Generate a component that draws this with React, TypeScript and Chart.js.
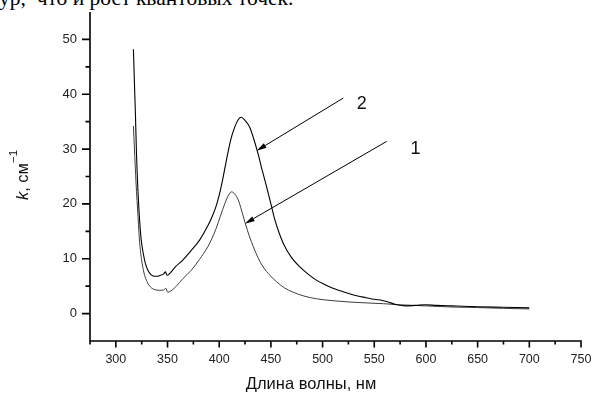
import React, { useEffect, useRef } from "react";
import { Chart, registerables } from "chart.js";

Chart.register(...registerables);

// Absorption spectra: wavelength (nm) vs absorption coefficient k (cm^-1)
const curve2Wl = [
  317, 318, 319, 320, 321.5, 323, 324.5, 326.5, 328.5, 331, 334, 337, 340, 343, 346, 348, 349.5, 352,
  358, 365, 372, 381, 389, 393, 397, 400, 403, 407, 411, 415, 418.5, 421.5, 425, 429.5, 433.5, 437.5,
  441.5, 446, 450, 454, 458, 462, 470, 478, 486, 494, 502, 510, 518, 526, 534, 542, 550, 558, 565,
  572, 580, 590, 600, 610, 625, 650, 675, 700,
];
const curve2K = [
  48.2, 42, 36, 29, 22, 17, 13.5, 11, 9.2, 7.9, 7.1, 6.8, 6.8, 7.0, 7.2, 7.6, 7.0, 7.3,
  8.6, 9.8, 11.3, 13.4, 16.0, 17.6, 19.6, 21.6, 24.1, 28, 31.6, 34, 35.4, 35.8, 35.2, 34, 31.8, 29.2,
  26.2, 23, 20, 17, 14.7, 12.8, 10.2, 8.5, 7.2, 6.1, 5.3, 4.6, 4.1, 3.6, 3.2, 2.9, 2.6, 2.4, 2.0,
  1.6, 1.4, 1.5, 1.6, 1.5, 1.4, 1.25, 1.15, 1.05,
];

const curve1Wl = [
  317, 318, 319.5, 321.5, 323, 325, 327, 329.5, 332, 335, 338, 342, 346, 348.5, 350, 353, 358,
  365, 373, 381, 389, 393, 397, 401, 405.5, 409, 412, 415, 418.5, 421.5, 425, 429, 433, 437.5, 442.5,
  449, 455.5, 463, 471.5, 482, 494, 510, 526.5, 542, 559, 575, 600, 625, 650, 675, 700,
];
const curve1K = [
  34.2, 30, 24, 17.5, 13, 9.7, 7.6, 6.1, 5.2, 4.6, 4.35, 4.25, 4.3, 4.6, 3.9, 4.1, 4.9,
  6.4, 7.9, 9.9, 12.2, 13.7, 15.5, 17.7, 20.1, 21.6, 22.2, 21.8, 20.7, 18.9, 16.6, 14.2, 12.2, 10.2, 8.5,
  7, 5.8, 4.7, 3.9, 3.2, 2.7, 2.35, 2.1, 1.95, 1.8, 1.6, 1.4, 1.2, 1.1, 0.95, 0.85,
];

const xTicks = [300, 350, 400, 450, 500, 550, 600, 650, 700, 750];
const xMinorTicks = [275, 325, 375, 425, 475, 525, 575, 625, 675, 725];
const yTicks = [0, 10, 20, 30, 40, 50];
const yMinorTicks = [5, 15, 25, 35, 45];

// Curve labels with their leader arrows: [labelX, labelY, startX, startY, tipX, tipY] in data units
const curveLabels = ["2", "1"];
const labelAnchors = [
  [537.8, 38.3, 520, 39.3, 436.2, 29.7],
  [590, 30.1, 562, 31.4, 424.8, 16.4],
];

const SANS = "'Liberation Sans', Arial, sans-serif";

const decorPlugin = {
  id: "decor",
  afterDraw(chart: any) {
    const { ctx } = chart;
    const xs = chart.scales.x;
    const ys = chart.scales.y;
    const x0 = xs.getPixelForValue(275);
    const x1 = xs.getPixelForValue(750);
    const yTop = ys.getPixelForValue(55);
    const yBot = ys.getPixelForValue(-5);
    ctx.save();
    ctx.strokeStyle = "#000";
    ctx.lineWidth = 1.6;
    ctx.lineCap = "butt";
    ctx.beginPath();
    ctx.moveTo(x0, yTop);
    ctx.lineTo(x0, yBot + 0.8);
    ctx.moveTo(x0 - 0.8, yBot);
    ctx.lineTo(x1 + 0.8, yBot);
    // y ticks (outward, to the left)
    for (const v of yTicks) {
      const p = ys.getPixelForValue(v);
      ctx.moveTo(x0 - 8, p);
      ctx.lineTo(x0, p);
    }
    for (const v of yMinorTicks) {
      const p = ys.getPixelForValue(v);
      ctx.moveTo(x0 - 4.5, p);
      ctx.lineTo(x0, p);
    }
    // x ticks (outward, downward)
    for (const v of xTicks) {
      const p = xs.getPixelForValue(v);
      ctx.moveTo(p, yBot);
      ctx.lineTo(p, yBot + 6.5);
    }
    for (const v of xMinorTicks) {
      const p = xs.getPixelForValue(v);
      ctx.moveTo(p, yBot);
      ctx.lineTo(p, yBot + 3.5);
    }
    ctx.stroke();

    // leader arrows and curve numbers
    ctx.lineWidth = 1;
    ctx.fillStyle = "#000";
    labelAnchors.forEach((a, i) => {
      const lx = xs.getPixelForValue(a[0]);
      const ly = ys.getPixelForValue(a[1]);
      const sx = xs.getPixelForValue(a[2]);
      const sy = ys.getPixelForValue(a[3]);
      const tx = xs.getPixelForValue(a[4]);
      const ty = ys.getPixelForValue(a[5]);
      const ang = Math.atan2(ty - sy, tx - sx);
      const len = 10;
      const hw = 2.6;
      const bx = tx - len * Math.cos(ang);
      const by = ty - len * Math.sin(ang);
      ctx.beginPath();
      ctx.moveTo(sx, sy);
      ctx.lineTo(bx, by);
      ctx.stroke();
      ctx.beginPath();
      ctx.moveTo(tx, ty);
      ctx.lineTo(bx + hw * Math.sin(ang), by - hw * Math.cos(ang));
      ctx.lineTo(bx - hw * Math.sin(ang), by + hw * Math.cos(ang));
      ctx.closePath();
      ctx.fill();
      ctx.font = `18px ${SANS}`;
      ctx.textAlign = "center";
      ctx.textBaseline = "middle";
      ctx.fillStyle = "#111";
      ctx.fillText(curveLabels[i], lx, ly);
      ctx.fillStyle = "#000";
    });

    // x axis title
    ctx.fillStyle = "#111";
    ctx.font = `16.5px ${SANS}`;
    ctx.textAlign = "center";
    ctx.textBaseline = "alphabetic";
    ctx.fillText("Длина волны, нм", 311, 389);

    // y axis title: italic k, then ", см" with superscript −1
    ctx.translate(28.3, 175);
    ctx.rotate(-Math.PI / 2);
    const fMain = `16.5px ${SANS}`;
    const fItal = `italic 16.5px ${SANS}`;
    const fSup = `11.5px ${SANS}`;
    ctx.font = fItal;
    const wK = ctx.measureText("k").width;
    ctx.font = fMain;
    const wMid = ctx.measureText(", см").width;
    ctx.font = fSup;
    const wSup = ctx.measureText("−1").width;
    let cx = -(wK + wMid + wSup) / 2;
    ctx.textAlign = "left";
    ctx.font = fItal;
    ctx.fillText("k", cx, 0);
    cx += wK;
    ctx.font = fMain;
    ctx.fillText(", см", cx, 0);
    cx += wMid;
    ctx.font = fSup;
    ctx.fillText("−1", cx, -11);
    ctx.restore();
  },
};

export default function App() {
  const canvasRef = useRef<HTMLCanvasElement | null>(null);

  useEffect(() => {
    const canvas = canvasRef.current;
    if (!canvas) return;
    const toPts = (xv: number[], yv: number[]) => xv.map((x, i) => ({ x, y: yv[i] }));
    const chart = new Chart(canvas, {
      type: "scatter",
      data: {
        datasets: [
          {
            label: "2",
            data: toPts(curve2Wl, curve2K),
            showLine: true,
            borderColor: "#000",
            borderWidth: 1.1,
            pointRadius: 0,
            cubicInterpolationMode: "monotone",
          },
          {
            label: "1",
            data: toPts(curve1Wl, curve1K),
            showLine: true,
            borderColor: "#3c3c3c",
            borderWidth: 1,
            pointRadius: 0,
            cubicInterpolationMode: "monotone",
          },
        ],
      },
      options: {
        animation: false,
        responsive: false,
        events: [],
        layout: { padding: { left: 0, right: 11, top: 12, bottom: 0 } },
        plugins: { legend: { display: false }, tooltip: { enabled: false } },
        scales: {
          x: {
            type: "linear",
            min: 275,
            max: 750,
            grid: { display: false, drawTicks: false, tickLength: 0 },
            border: { display: false },
            afterBuildTicks: (s: any) => {
              s.ticks = xTicks.map((v) => ({ value: v }));
            },
            afterFit: (s: any) => {
              s.height = 53;
              s.paddingLeft = 0;
              s.paddingRight = 0;
            },
            ticks: {
              font: { family: SANS, size: 12.5 },
              color: "#222",
              padding: 11,
              maxRotation: 0,
              autoSkip: false,
              callback: (v: any) => String(v),
            },
          },
          y: {
            type: "linear",
            min: -5,
            max: 55,
            grid: { display: false, drawTicks: false, tickLength: 0 },
            border: { display: false },
            afterBuildTicks: (s: any) => {
              s.ticks = yTicks.map((v) => ({ value: v }));
            },
            afterFit: (s: any) => {
              s.width = 90;
              s.paddingTop = 0;
              s.paddingBottom = 0;
            },
            ticks: {
              font: { family: SANS, size: 13 },
              color: "#222",
              padding: 13,
              autoSkip: false,
              callback: (v: any) => String(v),
            },
          },
        },
      },
      plugins: [decorPlugin],
    });
    return () => chart.destroy();
  }, []);

  return (
    <div style={{ position: "absolute", left: 0, top: 0, width: 592, height: 394, overflow: "hidden", background: "#fff" }}>
      <div
        style={{
          position: "absolute",
          left: -1,
          top: -12,
          fontFamily: "'Liberation Serif', 'Times New Roman', serif",
          fontSize: 21.5,
          lineHeight: "21px",
          whiteSpace: "pre",
          color: "#000",
        }}
      >
        {"ур,  что и рост квантовых точек."}
      </div>
      <canvas
        ref={canvasRef}
        width={592}
        height={394}
        style={{ position: "absolute", left: 0, top: 0, width: 592, height: 394 }}
      />
    </div>
  );
}
